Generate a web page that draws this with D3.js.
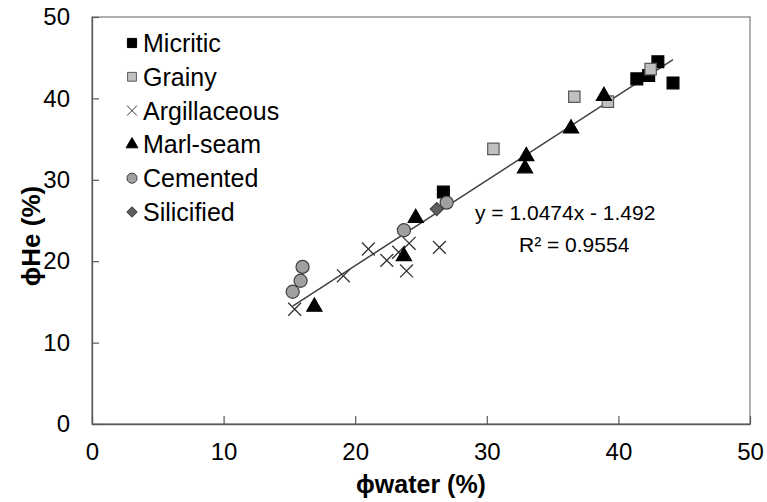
<!DOCTYPE html>
<html><head><meta charset="utf-8">
<script src="https://cdn.jsdelivr.net/npm/d3@7"></script>
<style>body{margin:0;background:#fff}svg{display:block}text{font-family:"Liberation Sans",Arial,sans-serif}</style>
</head><body>
<script>
const xTicks=[0,10,20,30,40,50];
const yTicks=[0,10,20,30,40,50];
const micritic=[[26.7,28.5],[41.4,42.4],[42.3,42.8],[43.0,44.5],[44.15,41.9]];
const grainy=[[42.45,43.6],[36.65,40.2],[39.2,39.6],[30.5,33.8]];
const argillaceous=[[15.4,14.1],[19.1,18.2],[21.0,21.5],[22.4,20.1],[23.3,21.1],[24.1,22.2],[23.9,18.8],[26.4,21.7]];
const marlSeam=[[16.9,14.4],[23.7,20.6],[24.6,25.3],[33.0,32.9],[32.9,31.4],[36.4,36.3],[38.9,40.3]];
const cemented=[[16.0,19.3],[15.85,17.6],[15.25,16.25],[23.7,23.8],[26.95,27.2]];
const silicified=[[26.2,26.4]];
const seriesNames=["Micritic","Grainy","Argillaceous","Marl-seam","Cemented","Silicified"];
const slope=1.0474, intercept=-1.492;
const eqText="y = 1.0474x - 1.492", r2Text="R² = 0.9554";

const W=767,H=502, L=92,R=750,T=17,B=424;
const svg=d3.select("body").append("svg").attr("width",W).attr("height",H);
const x=d3.scaleLinear().domain([0,50]).range([L,R]);
const y=d3.scaleLinear().domain([0,50]).range([B,T]);

svg.append("rect").attr("x",L).attr("y",T).attr("width",R-L).attr("height",B-T)
  .attr("fill","none").attr("stroke","#868686").attr("stroke-width",1.3);

const xa=svg.append("g").attr("transform",`translate(0,${B})`)
  .call(d3.axisBottom(x).tickValues(xTicks).tickSizeInner(-8).tickSizeOuter(0).tickPadding(19));
const ya=svg.append("g").attr("transform",`translate(${L},0)`)
  .call(d3.axisLeft(y).tickValues(yTicks).tickSizeInner(-7).tickSizeOuter(0).tickPadding(22));
[xa,ya].forEach(a=>{
  a.select(".domain").attr("stroke","#595959").attr("stroke-width",1.3);
  a.selectAll(".tick line").attr("stroke","#595959").attr("stroke-width",1.2);
  a.selectAll(".tick text").attr("font-size",24).attr("fill","#000").attr("font-family","Liberation Sans, Arial, sans-serif");
});

const allX=[...micritic,...grainy,...argillaceous,...marlSeam,...cemented,...silicified].map(d=>d[0]);
const [x0,x1]=d3.extent(allX);
svg.append("line").attr("x1",x(x0)).attr("y1",y(slope*x0+intercept))
  .attr("x2",x(x1)).attr("y2",y(slope*x1+intercept)).attr("stroke","#404040").attr("stroke-width",1.5);

const styles={
  "Micritic":{sym:d3.symbolSquare,size:140,fill:"#000",stroke:"#000",rot:0},
  "Grainy":{sym:d3.symbolSquare,size:130,fill:"#c0c0c0",stroke:"#595959",rot:0},
  "Argillaceous":{sym:d3.symbolX,size:110,fill:"none",stroke:"#333",rot:0},
  "Marl-seam":{sym:d3.symbolTriangle,size:100,fill:"#000",stroke:"#000",rot:0},
  "Cemented":{sym:d3.symbolCircle,size:135,fill:"#a0a0a0",stroke:"#404040",rot:0},
  "Silicified":{sym:d3.symbolSquare,size:85,fill:"#5f5f5f",stroke:"#404040",rot:45}
};
const data={"Micritic":micritic,"Grainy":grainy,"Argillaceous":argillaceous,"Marl-seam":marlSeam,"Cemented":cemented,"Silicified":silicified};
const sym=(n,size)=>d3.symbol().type(styles[n].sym).size(size)();
seriesNames.forEach(n=>{const s=styles[n];
  svg.append("g").selectAll("path").data(data[n]).join("path")
   .attr("d",sym(n,s.size)).attr("transform",d=>`translate(${x(d[0])},${y(d[1])}) rotate(${s.rot})`)
   .attr("fill",s.fill).attr("stroke",s.stroke).attr("stroke-width",n==="Argillaceous"?1.3:1.2);
});

const lg=svg.append("g");
seriesNames.forEach((n,i)=>{const s=styles[n];const cy=43+i*33.8;
  lg.append("path").attr("d",sym(n,s.size*0.6)).attr("transform",`translate(132,${cy}) rotate(${s.rot})`)
    .attr("fill",s.fill).attr("stroke",s.stroke).attr("stroke-width",1);
  lg.append("text").attr("x",143).attr("y",cy+9).attr("font-size",25).text(n);
});

svg.append("text").attr("x",475).attr("y",220).attr("font-size",21).text(eqText);
svg.append("text").attr("x",519).attr("y",252).attr("font-size",21).text(r2Text);

svg.append("text").attr("x",(L+R)/2).attr("y",493).attr("text-anchor","middle")
  .attr("font-size",25).attr("font-weight","bold").text("ϕwater (%)");
svg.append("text").attr("transform",`translate(40,236) rotate(-90)`).attr("text-anchor","middle")
  .attr("font-size",26).attr("font-weight","bold").text("ϕHe (%)");
</script>
</body></html>
